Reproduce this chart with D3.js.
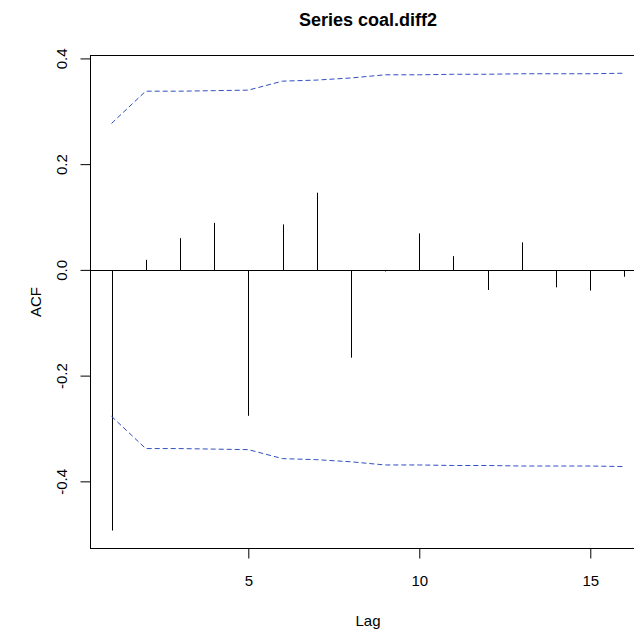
<!DOCTYPE html>
<html>
<head>
<meta charset="utf-8">
<script src="https://cdn.jsdelivr.net/npm/d3@7"></script>
<style>
  html, body { margin: 0; padding: 0; background: #ffffff; }
  svg { display: block; font-family: "Liberation Sans", Arial, Helvetica, sans-serif; }
</style>
</head>
<body>
<svg id="chart" width="634" height="636"></svg>
<script>
// ---- data ----
const lags = [1, 2, 3, 4, 5, 6, 7, 8, 9, 10, 11, 12, 13, 14, 15, 16];
const acfValues = [-0.493, 0.019, 0.060, 0.089, -0.276, 0.086, 0.146, -0.166, -0.003, 0.069, 0.026, -0.038, 0.052, -0.033, -0.039, -0.013];
const ciUpper = [0.277, 0.338, 0.338, 0.339, 0.340, 0.357, 0.359, 0.363, 0.369, 0.369, 0.370, 0.370, 0.371, 0.371, 0.371, 0.372];
const ciLower = [-0.277, -0.338, -0.338, -0.339, -0.340, -0.357, -0.359, -0.363, -0.369, -0.369, -0.370, -0.370, -0.371, -0.371, -0.371, -0.372];
const xTicks = [5, 10, 15];
const xTickLabels = ["5", "10", "15"];
const yTicks = [-0.4, -0.2, 0.0, 0.2, 0.4];
const yTickLabels = ["-0.4", "-0.2", "0.0", "0.2", "0.4"];
const titleText = "Series coal.diff2";
const xLabel = "Lag";
const yLabel = "ACF";

// ---- layout ----
const plot = { left: 91, right: 645, top: 55.5, bottom: 548.5 };
const svg = d3.select("#chart");

const x = d3.scaleLinear().domain([0.4, 16.6]).range([plot.left, plot.right]);
const y = d3.scaleLinear().domain([-0.527, 0.4055]).range([plot.bottom, plot.top]);

const fontTick = 15;

// zero line
svg.append("line")
  .attr("x1", plot.left).attr("x2", plot.right)
  .attr("y1", Math.round(y(0)) + 0.5).attr("y2", Math.round(y(0)) + 0.5)
  .attr("stroke", "#000").attr("stroke-width", 1);

// ACF spikes
svg.append("g").selectAll("line.spike")
  .data(lags)
  .join("line")
  .attr("class", "spike")
  .attr("x1", d => Math.round(x(d)) + 0.5)
  .attr("x2", d => Math.round(x(d)) + 0.5)
  .attr("y1", Math.round(y(0)) + 0.5)
  .attr("y2", (d, i) => y(acfValues[i]))
  .attr("stroke", "#000").attr("stroke-width", 1);

// confidence limits (dashed blue)
const ciLine = d3.line().x(d => x(d[0])).y(d => y(d[1]));
[ciUpper, ciLower].forEach(arr => {
  svg.append("path")
    .datum(lags.map((l, i) => [l, arr[i]]))
    .attr("d", ciLine)
    .attr("fill", "none")
    .attr("stroke", "#2f4fbf")
    .attr("stroke-width", 1)
    .attr("stroke-dasharray", "5,3");
});

// box (right side falls outside the picture)
svg.append("rect")
  .attr("x", plot.left - 0.5).attr("y", plot.top)
  .attr("width", plot.right - plot.left).attr("height", plot.bottom - plot.top)
  .attr("fill", "none").attr("stroke", "#000").attr("stroke-width", 1);

// y axis
const yAxis = d3.axisLeft(y)
  .tickValues(yTicks)
  .tickFormat((d, i) => yTickLabels[i])
  .tickSize(10).tickSizeOuter(0);
const gy = svg.append("g")
  .attr("transform", `translate(${plot.left - 0.5},0)`)
  .call(yAxis);
gy.select(".domain").remove();
gy.selectAll(".tick line").attr("stroke", "#000");
gy.selectAll(".tick text")
  .attr("x", null).attr("dy", null)
  .attr("transform", "translate(-24,0) rotate(-90)")
  .attr("text-anchor", "middle")
  .attr("fill", "#000")
  .style("font-size", fontTick + "px")
  .style("font-family", "Liberation Sans, Arial, sans-serif");

// x axis
const xAxis = d3.axisBottom(x)
  .tickValues(xTicks)
  .tickFormat((d, i) => xTickLabels[i])
  .tickSize(10).tickSizeOuter(0);
const gx = svg.append("g")
  .attr("transform", `translate(0,${plot.bottom})`)
  .call(xAxis);
gx.select(".domain").remove();
gx.selectAll(".tick line").attr("stroke", "#000");
gx.selectAll(".tick text")
  .attr("y", 37).attr("dy", null)
  .attr("fill", "#000")
  .style("font-size", fontTick + "px")
  .style("font-family", "Liberation Sans, Arial, sans-serif");

// titles
const cx = (plot.left + plot.right) / 2;
svg.append("text")
  .attr("x", cx).attr("y", 26)
  .attr("text-anchor", "middle")
  .style("font-size", "18px").style("font-weight", "bold")
  .attr("fill", "#000")
  .text(titleText);

svg.append("text")
  .attr("x", cx).attr("y", 626)
  .attr("text-anchor", "middle")
  .style("font-size", fontTick + "px")
  .attr("fill", "#000")
  .text(xLabel);

svg.append("text")
  .attr("transform", `translate(41,${(plot.top + plot.bottom) / 2}) rotate(-90)`)
  .attr("text-anchor", "middle")
  .style("font-size", fontTick + "px")
  .attr("fill", "#000")
  .text(yLabel);
</script>
</body>
</html>
